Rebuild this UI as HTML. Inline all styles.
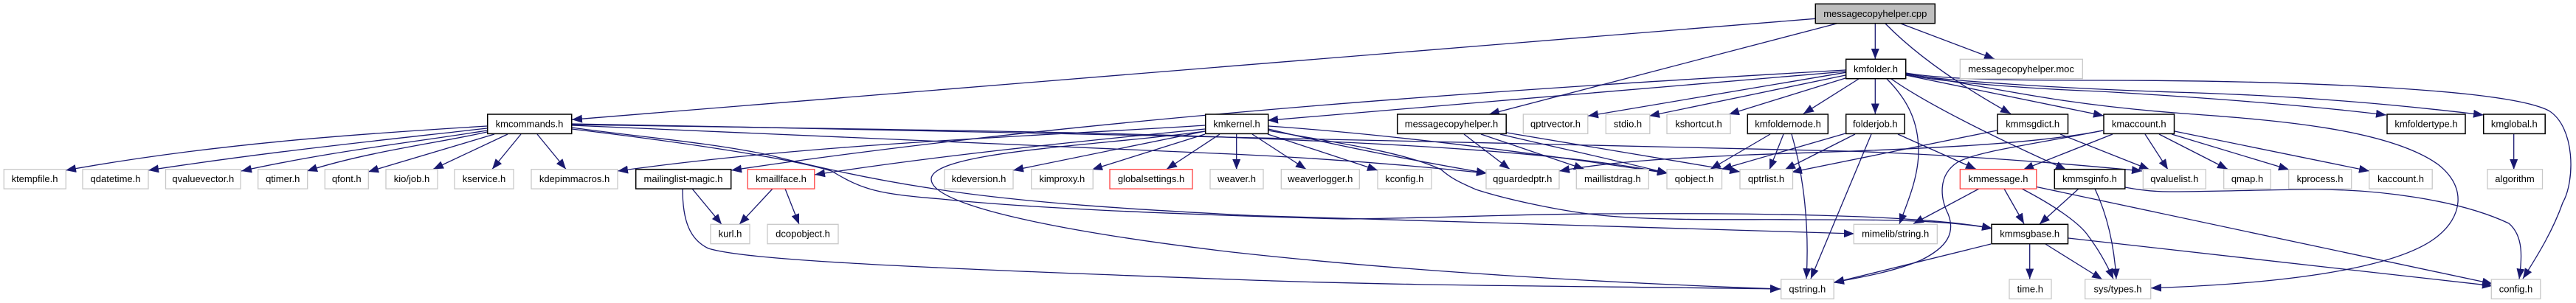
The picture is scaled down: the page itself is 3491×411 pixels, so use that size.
<!DOCTYPE html>
<html><head><meta charset="utf-8"><title>messagecopyhelper.cpp include graph</title>
<style>
html,body{margin:0;padding:0;background:#fff}
svg{display:block}
text{font-family:"Liberation Sans",sans-serif;font-size:13px;text-anchor:middle;fill:#000}
.e path{fill:none;stroke:#191970;stroke-width:1.3;marker-end:url(#a)}
rect{stroke-width:1.3;fill:#fff}
.k{stroke:#000;stroke-width:1.5}.g{stroke:#c8c8c8}.r{stroke:#ff4040}
</style></head><body>
<svg xmlns="http://www.w3.org/2000/svg" width="3491" height="411" viewBox="0 0 3491 411">
<defs><marker id="a" markerUnits="userSpaceOnUse" markerWidth="16" markerHeight="13" refX="14" refY="5.5" orient="auto"><path d="M0,0L14,5.5L0,11z" fill="#191970"/></marker></defs>
<g class="e">
<path d="M2460,25.3L775,162.3"/>
<path d="M2489,32L2018,155"/>
<path d="M2541.3,32L2541.3,80"/>
<path d="M2555,32C2600,78 2660,118 2725,154.3"/>
<path d="M2576,32L2703,80"/>
<path d="M2501,95C2100,118 1500,155 991,231"/>
<path d="M2501,97L1718,163.3"/>
<path d="M2501,98.3L2152,157.3"/>
<path d="M2501,102L2235,157.3"/>
<path d="M2501,106L2343,155"/>
<path d="M2519,107L2444,154.3"/>
<path d="M2541.3,107L2541.3,154.5"/>
<path d="M2557,107C2585,135 2600,165 2600,205C2600,240 2585,275 2574,304"/>
<path d="M2563,107C2610,140 2700,185 2800,230"/>
<path d="M2583,102L2680,122L2851,157"/>
<path d="M2583,101C2620,110 2740,120 2847,124C2980,132 3120,142 3234,156"/>
<path d="M2583,100C2630,110 2800,120 2947,125C3120,130 3250,142 3366,156"/>
<path d="M2583,99C2640,109 2750,109 2847,109C3050,109 3390,117 3454,150C3490,172 3490,245 3473,275C3460,312 3440,345 3419,378"/>
<path d="M2583,100C2700,118 2780,140 2947,153C3050,161 3230,170 3304,223C3345,255 3335,295 3304,320C3250,365 3090,385 2915,390.7"/>
<path d="M660,171C480,182 290,195 89,231"/>
<path d="M660,174C520,190 370,205 201,231"/>
<path d="M660,177C560,193 450,205 327,232"/>
<path d="M660,179C600,193 500,205 416,232"/>
<path d="M670,182L499,233"/>
<path d="M688,182L587,229.5"/>
<path d="M706,182L667,229.5"/>
<path d="M728,182L767,229.5"/>
<path d="M775,170C1000,180 1300,195 1670,209C1800,215 1920,225 2015,235"/>
<path d="M775,169C1150,175 1450,178 1660,186C1850,194 2100,203 2260,235"/>
<path d="M775,168C1100,174 1500,182 1660,186C1900,192 2300,199 2503,205C2650,210 2780,220 2903,232"/>
<path d="M775,173C860,185 960,193 1041,210C1100,225 1180,243 1259,255C1380,275 1550,285 1700,292.5C1900,301 2200,310 2513,317"/>
<path d="M775,175C900,190 1060,212 1127,232C1170,258 1190,263 1276,270C1400,283 1600,291 1820,297C1950,296 2060,290 2180,290C2350,289 2600,290 2700,310"/>
<path d="M1633,170C1400,185 1100,195 837,232"/>
<path d="M1633,175C1450,193 1280,210 1104,237"/>
<path d="M1633,178C1500,197 1262,205 1262,243C1262,285 1500,322 1670,342C1850,362 2100,381 2413,392"/>
<path d="M1633,178L1373,231"/>
<path d="M1633,182L1480,230"/>
<path d="M1653,182L1581,229.5"/>
<path d="M1675.7,182L1675.7,230"/>
<path d="M1697,182L1770,229.5"/>
<path d="M1718,182L1867,231"/>
<path d="M1719,175C1800,195 1900,215 2015,235"/>
<path d="M1719,171C1850,180 2030,200 2260,235"/>
<path d="M1719,177C1800,192 1900,205 1953,230C1970,245 1985,250 2000,257C2040,270 2120,288 2180,293C2260,300 2380,297 2437,298C2530,298 2630,297 2700,310"/>
<path d="M1984,182L2046,229.5"/>
<path d="M2007,182L2147,229.5"/>
<path d="M2033,182C2100,198 2180,215 2260,235"/>
<path d="M2042,180L2358,233"/>
<path d="M925,256C925,300 935,325 960,337C1010,352 1200,362 1670,379C1900,388 2150,388 2413,392"/>
<path d="M938,256L978,304.3"/>
<path d="M1047,256L1002,304.3"/>
<path d="M1064,256L1083,304.3"/>
<path d="M2399,182L2318,229.5"/>
<path d="M2417,182L2398,230"/>
<path d="M2428,182C2445,240 2452,310 2448,378"/>
<path d="M2501,181L2333,229.5"/>
<path d="M2514,182L2419,230"/>
<path d="M2536,182L2454,378"/>
<path d="M2572,182L2678,229.5"/>
<path d="M2706,177L2428,233.5"/>
<path d="M2792,182L2913,230"/>
<path d="M2850,177C2750,197 2600,202 2370,210C2280,214 2190,218 2113,232"/>
<path d="M2850,177C2760,195 2680,205 2653,220C2625,238 2630,270 2640,290C2650,315 2640,335 2603,353C2570,367 2530,375 2485,383"/>
<path d="M2863,182L2742,230"/>
<path d="M2907,182L2938,230"/>
<path d="M2926,182L3019,229.5"/>
<path d="M2943,182L3102,230"/>
<path d="M2947,178L3211,232"/>
<path d="M2716,256L2743,303.5"/>
<path d="M2740,256C2790,282 2820,305 2830,320C2845,340 2855,358 2864,378.5"/>
<path d="M2760,253.5L3378,385"/>
<path d="M2682,256L2593,303.5"/>
<path d="M2817,256L2764,304"/>
<path d="M2839,256C2855,290 2865,330 2868,378.5"/>
<path d="M2880,254C2900,258 2920,260 2940,260C3000,260 3080,257 3138,257C3220,257 3330,270 3400,303C3420,320 3418,350 3414,378.5"/>
<path d="M2698,331L2485,383.5"/>
<path d="M2750.7,331L2750.7,378.5"/>
<path d="M2772,331L2849,379"/>
<path d="M2803,323L3378,387.7"/>
<path d="M3406.7,182L3406.7,230"/>
</g>
<g>
<rect class="k" x="2460.3" y="5.3" width="162" height="26.4" fill="#bfbfbf" style="fill:#bfbfbf"/><text x="2541.3" y="23">messagecopyhelper.cpp</text>
<rect class="k" x="2501.7" y="80.3" width="81" height="26.4"/><text x="2542" y="98">kmfolder.h</text>
<rect class="g" x="2656.3" y="80.3" width="166" height="26.4"/><text x="2739" y="98">messagecopyhelper.moc</text>

<rect class="k" x="660.7" y="155" width="114" height="26.4"/><text x="717.5" y="172.5">kmcommands.h</text>
<rect class="k" x="1633.7" y="155" width="85" height="26.4"/><text x="1676" y="172.5">kmkernel.h</text>
<rect class="k" x="1893.7" y="155" width="147.5" height="26.4"/><text x="1967" y="172.5">messagecopyhelper.h</text>
<rect class="g" x="2064.3" y="155" width="87.5" height="26.4"/><text x="2108" y="172.5">qptrvector.h</text>
<rect class="g" x="2176.3" y="155" width="59.5" height="26.4"/><text x="2206" y="172.5">stdio.h</text>
<rect class="g" x="2259" y="155" width="86" height="26.4"/><text x="2302" y="172.5">kshortcut.h</text>
<rect class="k" x="2368.3" y="155" width="109" height="26.4"/><text x="2423" y="172.5">kmfoldernode.h</text>
<rect class="k" x="2501.7" y="155" width="79.5" height="26.4"/><text x="2541.3" y="172.5">folderjob.h</text>
<rect class="k" x="2707" y="155" width="95.5" height="26.4"/><text x="2754.7" y="172.5">kmmsgdict.h</text>
<rect class="k" x="2851" y="155" width="95.5" height="26.4"/><text x="2898.7" y="172.5">kmaccount.h</text>
<rect class="k" x="3235" y="155" width="106" height="26.4"/><text x="3288" y="172.5">kmfoldertype.h</text>
<rect class="k" x="3365.7" y="155" width="83.5" height="26.4"/><text x="3407.3" y="172.5">kmglobal.h</text>

<rect class="g" x="5.3" y="229.7" width="84" height="26.4"/><text x="47" y="247">ktempfile.h</text>
<rect class="g" x="112" y="229.7" width="89" height="26.4"/><text x="156.5" y="247">qdatetime.h</text>
<rect class="g" x="224.5" y="229.7" width="101.5" height="26.4"/><text x="275.3" y="247">qvaluevector.h</text>
<rect class="g" x="349.7" y="229.7" width="67" height="26.4"/><text x="383.2" y="247">qtimer.h</text>
<rect class="g" x="440.3" y="229.7" width="59" height="26.4"/><text x="469.8" y="247">qfont.h</text>
<rect class="g" x="523" y="229.7" width="70" height="26.4"/><text x="558" y="247">kio/job.h</text>
<rect class="g" x="616" y="229.7" width="80" height="26.4"/><text x="656" y="247">kservice.h</text>
<rect class="g" x="720" y="229.7" width="117" height="26.4"/><text x="778.5" y="247">kdepimmacros.h</text>
<rect class="k" x="861.7" y="229.7" width="129" height="26.4"/><text x="926" y="247">mailinglist-magic.h</text>
<rect class="r" x="1013.3" y="229.7" width="90.5" height="26.4"/><text x="1058.5" y="247">kmaillface.h</text>
<rect class="g" x="1280" y="229.7" width="93" height="26.4"/><text x="1326.5" y="247">kdeversion.h</text>
<rect class="g" x="1397.7" y="229.7" width="83.5" height="26.4"/><text x="1439.3" y="247">kimproxy.h</text>
<rect class="r" x="1504" y="229.7" width="112" height="26.4"/><text x="1560" y="247">globalsettings.h</text>
<rect class="g" x="1640" y="229.7" width="72" height="26.4"/><text x="1676" y="247">weaver.h</text>
<rect class="g" x="1736.3" y="229.7" width="106" height="26.4"/><text x="1789.3" y="247">weaverlogger.h</text>
<rect class="g" x="1867" y="229.7" width="73" height="26.4"/><text x="1903.3" y="247">kconfig.h</text>
<rect class="g" x="2014" y="229.7" width="99" height="26.4"/><text x="2063.3" y="247">qguardedptr.h</text>
<rect class="g" x="2136.3" y="229.7" width="98" height="26.4"/><text x="2185.3" y="247">maillistdrag.h</text>
<rect class="g" x="2259" y="229.7" width="74.5" height="26.4"/><text x="2296" y="247">qobject.h</text>
<rect class="g" x="2358" y="229.7" width="71.5" height="26.4"/><text x="2393.5" y="247">qptrlist.h</text>
<rect class="r" x="2656.3" y="229.7" width="103.5" height="26.4"/><text x="2708" y="247">kmmessage.h</text>
<rect class="k" x="2784.3" y="229.7" width="95.5" height="26.4"/><text x="2832" y="247">kmmsginfo.h</text>
<rect class="g" x="2904.3" y="229.7" width="85" height="26.4"/><text x="2946.8" y="247">qvaluelist.h</text>
<rect class="g" x="3013.7" y="229.7" width="63.5" height="26.4"/><text x="3045.5" y="247">qmap.h</text>
<rect class="g" x="3101.7" y="229.7" width="85" height="26.4"/><text x="3144" y="247">kprocess.h</text>
<rect class="g" x="3210.7" y="229.7" width="85.5" height="26.4"/><text x="3253.5" y="247">kaccount.h</text>
<rect class="g" x="3371" y="229.7" width="74.5" height="26.4"/><text x="3408" y="247">algorithm</text>

<rect class="g" x="963" y="304.3" width="53" height="26.4"/><text x="989.5" y="321.5">kurl.h</text>
<rect class="g" x="1040" y="304.3" width="96" height="26.4"/><text x="1088" y="321.5">dcopobject.h</text>
<rect class="g" x="2512.3" y="304.3" width="113" height="26.4"/><text x="2568.7" y="321.5">mimelib/string.h</text>
<rect class="k" x="2699" y="304.3" width="103.5" height="26.4"/><text x="2750.7" y="321.5">kmmsgbase.h</text>

<rect class="g" x="2413.7" y="379" width="71.5" height="26.4"/><text x="2449.3" y="396.5">qstring.h</text>
<rect class="g" x="2723" y="379" width="57" height="26.4"/><text x="2751.3" y="396.5">time.h</text>
<rect class="g" x="2825.7" y="379" width="89" height="26.4"/><text x="2870" y="396.5">sys/types.h</text>
<rect class="g" x="3376.3" y="379" width="66.5" height="26.4"/><text x="3409.5" y="396.5">config.h</text>
</g>
</svg>
</body></html>
